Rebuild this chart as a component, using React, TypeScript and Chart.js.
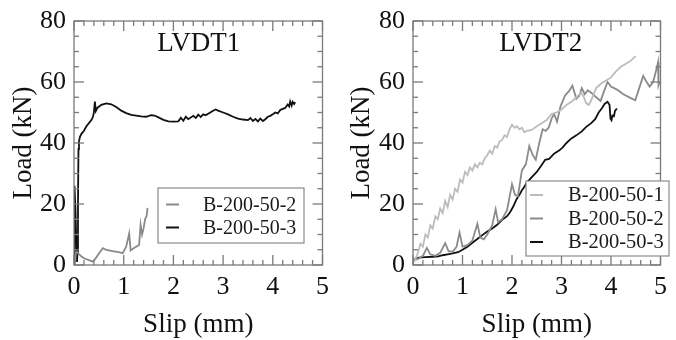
import React, { useEffect, useRef } from 'react';
import { Chart, registerables } from 'chart.js';

Chart.register(...registerables);

type Pt = [number, number];

const SERIF = "'Liberation Serif', 'Times New Roman', Times, serif";

// ---- axes / ticks ----
const xTicks = [0, 1, 2, 3, 4, 5];
const yTicks = [0, 20, 40, 60, 80];
const xMinorTicks = [0, 0.2, 0.4, 0.6, 0.8, 1, 1.2, 1.4, 1.6, 1.8, 2, 2.2, 2.4, 2.6, 2.8, 3, 3.2, 3.4, 3.6, 3.8, 4, 4.2, 4.4, 4.6, 4.8, 5];
const yMinorTicks = [0, 5, 10, 15, 20, 25, 30, 35, 40, 45, 50, 55, 60, 65, 70, 75, 80];

// ---- series names / colours ----
const seriesNames = ['B-200-50-1', 'B-200-50-2', 'B-200-50-3'];
const seriesColors = ['#bcbcbc', '#8a8a8a', '#111111'];
const panelTitles = ['LVDT1', 'LVDT2'];

// ---- LVDT1 data ----
const lvdt1_B2: Pt[] = [
  [0, 0], [0.02, 0.5], [0.04, 4], [0.06, 4.3], [0.1, 3.6], [0.15, 2.8], [0.2, 2.2], [0.3, 1.6],
  [0.38, 1.1], [0.45, 2.5], [0.52, 4.2], [0.58, 5.5], [0.64, 5], [0.7, 4.8], [0.8, 4.5], [0.9, 4.2],
  [0.98, 3.9], [1.05, 6], [1.11, 10.3], [1.14, 4.8], [1.2, 5.5], [1.25, 6], [1.31, 6.6], [1.34, 13.2],
  [1.37, 10], [1.4, 12], [1.43, 15], [1.46, 16], [1.48, 18.7],
];

const lvdt1_B3: Pt[] = [
  [0, 0], [0.01, 26], [0.03, 18], [0.05, 5], [0.06, 1], [0.07, 4], [0.08, 20], [0.09, 38], [0.1, 40.5],
  [0.12, 42], [0.15, 43], [0.2, 44], [0.25, 45.5], [0.3, 46.5], [0.35, 47.5], [0.38, 48.5], [0.4, 50],
  [0.42, 53.6], [0.44, 50.5], [0.47, 51.5], [0.55, 52.5], [0.65, 53], [0.75, 52.7], [0.85, 51.8],
  [0.95, 50.6], [1.05, 49.8], [1.15, 49.2], [1.25, 49], [1.35, 48.7], [1.45, 48.6], [1.55, 49.1],
  [1.62, 49], [1.7, 48.4], [1.8, 47.6], [1.9, 47.1], [2.0, 47], [2.1, 47.1], [2.15, 48.3], [2.2, 47.3],
  [2.25, 48.6], [2.3, 47.8], [2.4, 48.9], [2.45, 48.2], [2.5, 49.3], [2.55, 48.5], [2.6, 49.4],
  [2.65, 49.1], [2.7, 49.6], [2.8, 50.6], [2.85, 51], [2.9, 50.6], [3.0, 50], [3.1, 49.4], [3.2, 48.6],
  [3.3, 48], [3.4, 47.7], [3.5, 47.5], [3.55, 48.2], [3.6, 47.2], [3.65, 47.9], [3.7, 47.1], [3.75, 48],
  [3.8, 47.2], [3.85, 47.8], [3.9, 48.6], [3.95, 48.9], [4.0, 49.4], [4.05, 50], [4.1, 49.7],
  [4.15, 50.8], [4.2, 51.2], [4.25, 51.5], [4.3, 52.6], [4.33, 52], [4.35, 53.6], [4.38, 52.3],
  [4.4, 53.5], [4.43, 52.8], [4.45, 53.4],
];

// ---- LVDT2 data ----
const lvdt2_B1: Pt[] = [
  [0, 0.5], [0.05, 2], [0.1, 4], [0.15, 7], [0.2, 6], [0.25, 10], [0.3, 9], [0.35, 13], [0.4, 12],
  [0.45, 16], [0.5, 15], [0.55, 18.5], [0.6, 17], [0.65, 21], [0.7, 19], [0.75, 23], [0.8, 21.5],
  [0.85, 25], [0.9, 24], [0.95, 28], [1.0, 27], [1.05, 30.5], [1.1, 29.5], [1.15, 32], [1.2, 31],
  [1.25, 33], [1.3, 32], [1.35, 33.5], [1.4, 33], [1.45, 35], [1.5, 36], [1.55, 37.5], [1.6, 36.5],
  [1.65, 39], [1.7, 38.5], [1.75, 40.5], [1.8, 41], [1.85, 42.5], [1.9, 42], [1.95, 44.5], [2.0, 46],
  [2.05, 45], [2.1, 45.5], [2.15, 44.5], [2.2, 45], [2.25, 43.5], [2.3, 44], [2.4, 44.3], [2.5, 45.5],
  [2.6, 46.5], [2.7, 47.5], [2.8, 49.5], [2.9, 50], [3.0, 51], [3.1, 52.5], [3.2, 53.5], [3.3, 55],
  [3.4, 56.5], [3.45, 55], [3.5, 53], [3.55, 52.5], [3.6, 54], [3.65, 56], [3.7, 58], [3.8, 59.5],
  [3.9, 60.5], [4.0, 61.5], [4.1, 63.5], [4.2, 65], [4.3, 66], [4.4, 67], [4.5, 68.5],
];

const lvdt2_B2: Pt[] = [
  [0, 1.5], [0.1, 2], [0.2, 3], [0.28, 5.6], [0.35, 3.5], [0.45, 3], [0.55, 4], [0.65, 7.2], [0.72, 4.5],
  [0.81, 4.5], [0.88, 6], [0.94, 10.6], [1.0, 6], [1.1, 6.5], [1.2, 8], [1.3, 13.5], [1.36, 9],
  [1.43, 8.4], [1.5, 10], [1.6, 13], [1.67, 18.3], [1.72, 14], [1.8, 15], [1.9, 18], [2.0, 26.5],
  [2.06, 23], [2.12, 22.5], [2.2, 31], [2.28, 33], [2.35, 39], [2.42, 36], [2.48, 34.5], [2.55, 40],
  [2.62, 44.5], [2.68, 44], [2.74, 45], [2.8, 48], [2.85, 49.5], [2.91, 47], [2.98, 52], [3.07, 55.5],
  [3.15, 57], [3.22, 58.8], [3.3, 54.5], [3.36, 55.5], [3.41, 58], [3.47, 56], [3.53, 57.3],
  [3.6, 56.5], [3.7, 55], [3.79, 53.8], [3.86, 57], [3.93, 60], [4.0, 58.5], [4.12, 57.5], [4.25, 56],
  [4.39, 54.8], [4.49, 54], [4.57, 58], [4.65, 62], [4.72, 60], [4.78, 58.5], [4.85, 60], [4.9, 63],
  [4.95, 66.5], [4.96, 59], [4.98, 60],
];

const lvdt2_B3: Pt[] = [
  [0, 1.5], [0.05, 2], [0.12, 2.4], [0.25, 2.6], [0.4, 2.7], [0.51, 2.8], [0.6, 3.2], [0.7, 3.5],
  [0.8, 3.8], [0.91, 4.2], [1.0, 5], [1.1, 6], [1.2, 7.3], [1.3, 8.5], [1.4, 9.8], [1.5, 11], [1.6, 12],
  [1.7, 13.2], [1.8, 14.8], [1.9, 16], [1.96, 17.3], [2.02, 19], [2.09, 21.5], [2.15, 23], [2.2, 24.5],
  [2.23, 25.2], [2.3, 27], [2.4, 28.8], [2.5, 30.5], [2.6, 32.8], [2.67, 34.5], [2.75, 34.8],
  [2.85, 36.5], [2.95, 37.5], [3.02, 38.5], [3.1, 40], [3.2, 41.5], [3.3, 42.5], [3.41, 43.8],
  [3.5, 45.3], [3.6, 46.5], [3.68, 47.8], [3.75, 50], [3.82, 51.5], [3.87, 52.8], [3.93, 53.5],
  [3.97, 52.5], [3.99, 48], [4.01, 47.5], [4.03, 49], [4.06, 48.8], [4.08, 50.5], [4.12, 51.3],
];

interface Series { name: string; color: string; pts: Pt[]; }
interface LegendCfg { box: [number, number, number, number]; rows: number[]; sample: [number, number]; textX: number; fontSize: number; }

const framePlugin = {
  id: 'frame',
  afterDatasetsDraw(chart: any, _args: any, opts: any) {
    const { ctx, chartArea: a, scales } = chart;
    const xs = scales.x, ys = scales.y;
    ctx.save();
    ctx.strokeStyle = '#7a7a7a';
    ctx.lineWidth = 1.3;
    ctx.strokeRect(a.left, a.top, a.right - a.left, a.bottom - a.top);
    const seg = (x1: number, y1: number, x2: number, y2: number) => {
      ctx.beginPath(); ctx.moveTo(x1, y1); ctx.lineTo(x2, y2); ctx.stroke();
    };
    xMinorTicks.forEach((v) => {
      const px = xs.getPixelForValue(v);
      const len = xTicks.includes(v) ? 10 : 5;
      seg(px, a.bottom, px, a.bottom - len);
      seg(px, a.top, px, a.top + len);
    });
    yMinorTicks.forEach((v) => {
      const py = ys.getPixelForValue(v);
      const len = yTicks.includes(v) ? 10 : 5;
      seg(a.left, py, a.left + len, py);
      seg(a.right, py, a.right - len, py);
    });
    // title
    ctx.fillStyle = '#111';
    ctx.font = `27px ${SERIF}`;
    ctx.textAlign = 'center';
    ctx.textBaseline = 'middle';
    ctx.fillText(opts.title, (a.left + a.right) / 2 + opts.titleDx, opts.titleY);
    // legend
    const lg: LegendCfg = opts.legend;
    const [bx1, by1, bx2, by2] = lg.box;
    ctx.fillStyle = '#ffffff';
    ctx.fillRect(bx1, by1, bx2 - bx1, by2 - by1);
    ctx.strokeStyle = '#8a8a8a';
    ctx.lineWidth = 1.2;
    ctx.strokeRect(bx1, by1, bx2 - bx1, by2 - by1);
    const series: Series[] = opts.series;
    ctx.font = `${lg.fontSize}px ${SERIF}`;
    ctx.textAlign = 'left';
    series.forEach((s, i) => {
      const ry = lg.rows[i];
      ctx.strokeStyle = s.color;
      ctx.lineWidth = 2;
      seg(lg.sample[0], ry, lg.sample[1], ry);
      ctx.fillStyle = '#1a1a1a';
      ctx.fillText(s.name, lg.textX, ry + 1);
    });
    ctx.restore();
  },
};

function Panel(props: {
  left: number; yWidth: number; padRight: number; title: string; titleDx: number;
  series: Series[]; legend: LegendCfg;
}) {
  const ref = useRef<HTMLCanvasElement | null>(null);
  useEffect(() => {
    const canvas = ref.current;
    if (!canvas) return;
    const tickFont = { family: SERIF, size: 26, lineHeight: 1 };
    const titleFont = { family: SERIF, size: 27, lineHeight: 1 };
    const chart = new Chart(canvas, {
      type: 'line',
      data: {
        datasets: props.series.map((s) => ({
          label: s.name,
          data: s.pts.map(([x, y]) => ({ x, y })),
          borderColor: s.color,
          backgroundColor: s.color,
          borderWidth: 1.8,
          pointRadius: 0,
          tension: 0,
          fill: false,
        })),
      },
      options: {
        animation: false,
        responsive: false,
        maintainAspectRatio: false,
        layout: { padding: { top: 13, right: props.padRight, left: 0, bottom: 0 } },
        plugins: {
          legend: { display: false },
          tooltip: { enabled: false },
          frame: { title: props.title, titleDx: props.titleDx, titleY: 44, legend: props.legend, series: props.series },
        } as any,
        scales: {
          x: {
            type: 'linear', min: 0, max: 5,
            grid: { display: false, drawTicks: false },
            border: { display: false },
            afterBuildTicks: (s: any) => { s.ticks = xTicks.map((v) => ({ value: v })); },
            ticks: { padding: 9, color: '#111', font: tickFont, maxRotation: 0, autoSkip: false },
            title: { display: true, text: 'Slip (mm)', color: '#111', font: titleFont, padding: { top: 0, bottom: 1.5 } },
            afterFit: (s: any) => { s.height = 75; },
          },
          y: {
            type: 'linear', min: 0, max: 80,
            grid: { display: false, drawTicks: false },
            border: { display: false },
            afterBuildTicks: (s: any) => { s.ticks = yTicks.map((v) => ({ value: v })); },
            ticks: { padding: 8, color: '#111', font: tickFont, autoSkip: false },
            title: { display: true, text: 'Load (kN)', color: '#111', font: titleFont, padding: { top: 10, bottom: 0 } },
            afterFit: (s: any) => { s.width = props.yWidth; },
          },
        },
      } as any,
      plugins: [framePlugin as any],
    });
    return () => chart.destroy();
  }, []);
  return (
    <canvas
      ref={ref}
      width={338}
      height={340}
      style={{ position: 'absolute', left: props.left, top: 0, width: 338, height: 340 }}
    />
  );
}

export default function App() {
  const left: Series[] = [
    { name: seriesNames[1], color: seriesColors[1], pts: lvdt1_B2 },
    { name: seriesNames[2], color: seriesColors[2], pts: lvdt1_B3 },
  ];
  const right: Series[] = [
    { name: seriesNames[0], color: seriesColors[0], pts: lvdt2_B1 },
    { name: seriesNames[1], color: seriesColors[1], pts: lvdt2_B2 },
    { name: seriesNames[2], color: seriesColors[2], pts: lvdt2_B3 },
  ];
  return (
    <div style={{ position: 'fixed', left: 0, top: 0, width: 676, height: 340, background: '#fff', overflow: 'hidden' }}>
      <Panel
        left={0} yWidth={74} padRight={10} title={panelTitles[0]} titleDx={0.5} series={left}
        legend={{ box: [158, 188, 304, 243], rows: [204.5, 227.5], sample: [166, 179], textX: 203, fontSize: 20 }}
      />
      <Panel
        left={338} yWidth={75} padRight={7} title={panelTitles[1]} titleDx={4} series={right}
        legend={{ box: [188, 181, 331, 256], rows: [195, 218.5, 242], sample: [192, 205], textX: 230, fontSize: 20.5 }}
      />
    </div>
  );
}
